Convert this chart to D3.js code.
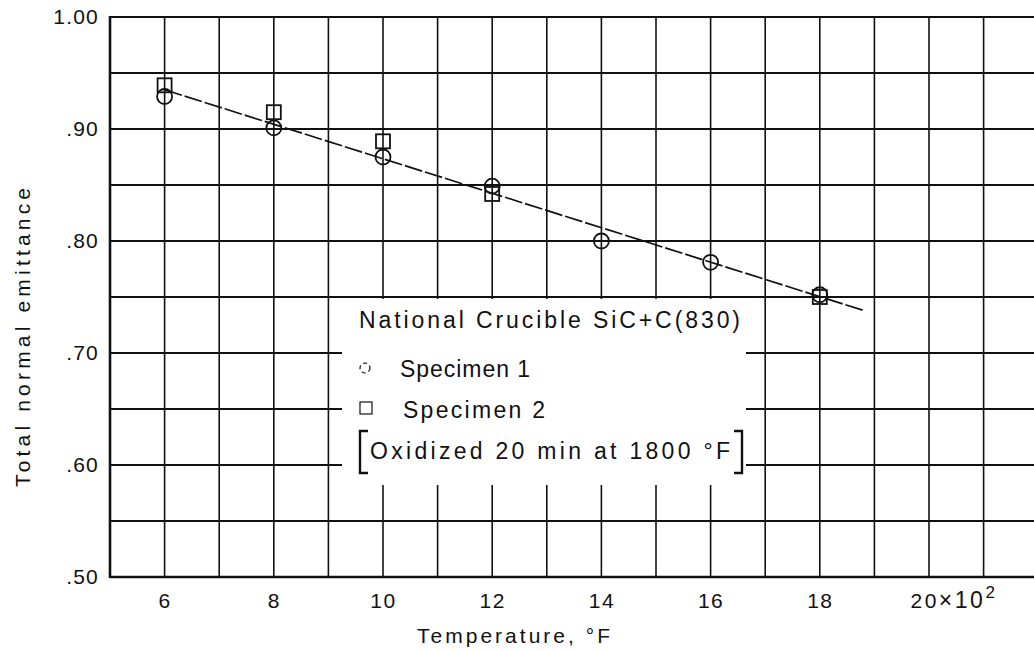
<!DOCTYPE html>
<html>
<head>
<meta charset="utf-8">
<script src="https://cdn.jsdelivr.net/npm/d3@7"></script>
<style>
  body { margin: 0; background: #fff; }
  text { font-family: "Liberation Sans", Arial, sans-serif; fill: #111; }
</style>
</head>
<body>
<div id="viz"></div>
<script>
var width = 1034,
    height = 650;

// temperature in hundreds of deg F
var spec1Temp = [6, 8, 10, 12, 14, 16, 18];
var spec1Emit = [0.929, 0.901, 0.875, 0.849, 0.800, 0.781, 0.752];
var spec2Temp = [6, 8, 10, 12, 18];
var spec2Emit = [0.939, 0.915, 0.889, 0.842, 0.750];
var fitTemp = [6, 18.8];
var fitEmit = [0.935, 0.738];

var xTicks = [6, 8, 10, 12, 14, 16, 18, 20];
var xTickLabels = ['6', '8', '10', '12', '14', '16', '18', '20'];
var yTicks = [1.0, 0.9, 0.8, 0.7, 0.6, 0.5];
var yTickLabels = ['1.00', '.90', '.80', '.70', '.60', '.50'];

var legendLines = ['National Crucible SiC+C(830)', 'Specimen 1', 'Specimen 2', 'Oxidized 20 min at 1800 \u00b0F'];

var x = d3.scaleLinear().domain([5, 22]).range([110, 110 + 17 * 54.6]);
var y = d3.scaleLinear().domain([0.5, 1.0]).range([577, 17]);

var svg = d3.select('#viz').append('svg')
  .attr('width', width)
  .attr('height', height)
  .style('background', '#fff');

var grid = svg.append('g').attr('class', 'grid');

// vertical grid, every 100 F
grid.selectAll('line.v')
  .data(d3.range(6, 22))
  .enter().append('line')
  .attr('x1', d => x(d)).attr('x2', d => x(d))
  .attr('y1', y(1.0)).attr('y2', y(0.5))
  .attr('stroke', '#111').attr('stroke-width', 1.6);

// horizontal grid, every 0.05
grid.selectAll('line.h')
  .data(d3.range(0, 11).map(i => 0.5 + i * 0.05))
  .enter().append('line')
  .attr('x1', x(5)).attr('x2', width)
  .attr('y1', d => y(d)).attr('y2', d => y(d))
  .attr('stroke', '#111').attr('stroke-width', (d, i) => i === 0 ? 2.6 : 1.8);

// left axis line
svg.append('line')
  .attr('x1', x(5)).attr('x2', x(5))
  .attr('y1', y(1.0) - 1).attr('y2', y(0.5) + 1)
  .attr('stroke', '#111').attr('stroke-width', 2.6);

// x axis labels
var xAxis = d3.axisBottom(x)
  .tickValues(xTicks)
  .tickSize(0)
  .tickPadding(16)
  .tickFormat((d, i) => xTickLabels[i]);

var gx = svg.append('g')
  .attr('transform', 'translate(0,' + y(0.5) + ')')
  .call(xAxis);
gx.select('.domain').remove();
gx.selectAll('text')
  .attr('font-size', 21)
  .attr('letter-spacing', 1.5)
  .attr('font-family', '"Liberation Sans", Arial, sans-serif')
  .attr('fill', '#111');
// last label gets the x10^2 multiplier
var lastTick = gx.selectAll('.tick').filter(d => d === 20).select('text');
lastTick.attr('text-anchor', 'start').attr('x', -19).attr('letter-spacing', 2.5);
lastTick.append('tspan').attr('font-size', 23).text('\u00d710');
lastTick.append('tspan').attr('dy', -10).attr('font-size', 17).text('2');

// y axis labels
var yAxis = d3.axisLeft(y)
  .tickValues(yTicks)
  .tickSize(0)
  .tickPadding(11)
  .tickFormat((d, i) => yTickLabels[i]);

var gy = svg.append('g')
  .attr('transform', 'translate(' + x(5) + ',0)')
  .call(yAxis);
gy.select('.domain').remove();
gy.selectAll('text')
  .attr('font-size', 21)
  .attr('letter-spacing', 1.2)
  .attr('font-family', '"Liberation Sans", Arial, sans-serif')
  .attr('fill', '#111');

// axis titles
svg.append('text')
  .attr('x', 417).attr('y', 643)
  .attr('font-size', 21)
  .attr('textLength', 193)
  .attr('lengthAdjust', 'spacing')
  .text('Temperature, \u00b0F');

svg.append('text')
  .attr('transform', 'translate(30,487) rotate(-90)')
  .attr('font-size', 21)
  .attr('textLength', 299)
  .attr('lengthAdjust', 'spacing')
  .text('Total normal emittance');

// fitted line
var line = d3.line()
  .x(d => x(d[0]))
  .y(d => y(d[1]));

svg.append('path')
  .datum(d3.zip(fitTemp, fitEmit))
  .attr('d', line)
  .attr('fill', 'none')
  .attr('stroke', '#111')
  .attr('stroke-width', 1.7)
  .attr('stroke-dasharray', '18,3');

// specimen 1 circles
svg.selectAll('circle.s1')
  .data(d3.zip(spec1Temp, spec1Emit))
  .enter().append('circle')
  .attr('cx', d => x(d[0]))
  .attr('cy', d => y(d[1]))
  .attr('r', 7.5)
  .attr('fill', 'none')
  .attr('stroke', '#111')
  .attr('stroke-width', 1.8);

// specimen 2 squares
svg.selectAll('rect.s2')
  .data(d3.zip(spec2Temp, spec2Emit))
  .enter().append('rect')
  .attr('x', d => x(d[0]) - 7)
  .attr('y', d => y(d[1]) - 7)
  .attr('width', 14)
  .attr('height', 14)
  .attr('fill', 'none')
  .attr('stroke', '#111')
  .attr('stroke-width', 1.8);

// legend box
var legend = svg.append('g').attr('class', 'legend');
legend.append('rect')
  .attr('x', 342).attr('y', 299)
  .attr('width', 404).attr('height', 186)
  .attr('fill', '#fff');

legend.append('text')
  .attr('x', 359).attr('y', 328)
  .attr('font-size', 23)
  .attr('textLength', 381)
  .attr('lengthAdjust', 'spacing')
  .text(legendLines[0]);

legend.append('circle')
  .attr('cx', 365).attr('cy', 368).attr('r', 5)
  .attr('fill', 'none').attr('stroke', '#111')
  .attr('stroke-width', 1.2).attr('stroke-dasharray', '4,3');
legend.append('text')
  .attr('x', 400).attr('y', 377)
  .attr('font-size', 23)
  .attr('textLength', 130)
  .attr('lengthAdjust', 'spacing')
  .text(legendLines[1]);

legend.append('rect')
  .attr('x', 360).attr('y', 402).attr('width', 12).attr('height', 12)
  .attr('fill', 'none').attr('stroke', '#111').attr('stroke-width', 1.2);
legend.append('text')
  .attr('x', 403).attr('y', 418)
  .attr('font-size', 23)
  .attr('textLength', 142)
  .attr('lengthAdjust', 'spacing')
  .text(legendLines[2]);

// bracketed note
legend.append('path')
  .attr('d', 'M368,431 L360,431 L360,473 L368,473')
  .attr('fill', 'none').attr('stroke', '#111').attr('stroke-width', 2.4);
legend.append('path')
  .attr('d', 'M734,431 L742,431 L742,473 L734,473')
  .attr('fill', 'none').attr('stroke', '#111').attr('stroke-width', 2.4);
legend.append('text')
  .attr('x', 370).attr('y', 459)
  .attr('font-size', 23)
  .attr('textLength', 360)
  .attr('lengthAdjust', 'spacing')
  .text(legendLines[3]);
</script>
</body>
</html>
